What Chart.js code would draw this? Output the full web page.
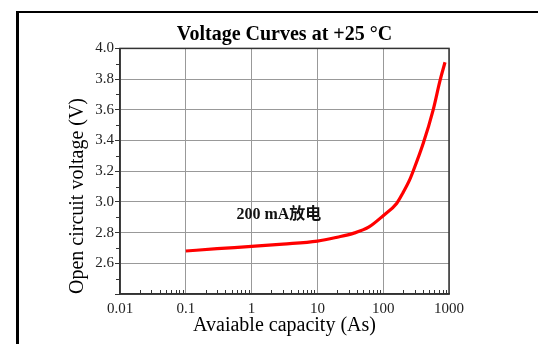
<!DOCTYPE html>
<html>
<head>
<meta charset="utf-8">
<script src="https://cdn.jsdelivr.net/npm/chart.js@4/dist/chart.umd.min.js"></script>
<style>
  body { margin: 0; background: #fff; }
  #wrap { position: relative; width: 538px; height: 344px; }
  #frame { position: absolute; left: 16px; top: 11px; right: 0; bottom: 0; border-left: 3px solid #000; border-top: 2px solid #000; pointer-events: none; }
</style>
</head>
<body>
<div id="wrap">
  <canvas id="chart" width="538" height="344"></canvas>
  <div id="frame"></div>
</div>
<script>
const capacity = [0.1, 0.3, 1, 3, 10, 20, 35, 60, 100, 160, 200, 250, 285, 405, 575, 730, 870];
const voltage = [2.68, 2.695, 2.71, 2.725, 2.745, 2.77, 2.795, 2.835, 2.91, 2.99, 3.06, 3.14, 3.20, 3.38, 3.60, 3.79, 3.91];
const xTicks = [0.01, 0.1, 1, 10, 100, 1000];
const xTickLabels = ['0.01', '0.1', '1', '10', '100', '1000'];
const yTicks = [2.4, 2.6, 2.8, 3.0, 3.2, 3.4, 3.6, 3.8, 4.0];
const yTickLabels = ['', '2.6', '2.8', '3.0', '3.2', '3.4', '3.6', '3.8', '4.0'];
const noteText = '200 mA放电';
const noteAt = { x: 2.6, y: 2.915 };

const serif = '"Liberation Serif", "DejaVu Serif", serif';

// plot frame, minor ticks and the note
const extras = {
  id: 'extras',
  afterDraw(chart) {
    const { ctx, chartArea: a, scales: { x, y } } = chart;
    ctx.save();
    ctx.strokeStyle = '#333';
    ctx.lineWidth = 1;
    ctx.beginPath();
    for (let d = 0.01; d < 1000; d *= 10) {
      for (let k = 2; k <= 9; k++) {
        const px = Math.round(x.getPixelForValue(k * d)) + 0.5;
        ctx.moveTo(px, a.bottom);
        ctx.lineTo(px, a.bottom - 4);
      }
    }
    for (let i = 0; i < 8; i++) {
      const py = Math.round(y.getPixelForValue(2.5 + i * 0.2)) + 0.5;
      ctx.moveTo(a.left - 4, py);
      ctx.lineTo(a.left, py);
    }
    ctx.stroke();
    ctx.lineWidth = 1.5;
    ctx.strokeStyle = '#333';
    ctx.strokeRect(a.left, a.top, a.right - a.left, a.bottom - a.top);
    ctx.fillStyle = '#111';
    ctx.font = 'bold 16px "Liberation Serif", "Noto Sans CJK SC", serif';
    ctx.textAlign = 'center';
    ctx.textBaseline = 'middle';
    ctx.fillText(noteText, x.getPixelForValue(noteAt.x), y.getPixelForValue(noteAt.y));
    ctx.restore();
  }
};

new Chart(document.getElementById('chart'), {
  type: 'line',
  data: {
    datasets: [{
      data: capacity.map((c, i) => ({ x: c, y: voltage[i] })),
      borderColor: '#ff0000',
      borderWidth: 3.2,
      pointRadius: 0,
      cubicInterpolationMode: 'monotone',
      fill: false
    }]
  },
  options: {
    responsive: false,
    animation: false,
    devicePixelRatio: 1,
    layout: { padding: { left: 0, right: 89, top: 0, bottom: 0 } },
    plugins: {
      legend: { display: false },
      tooltip: { enabled: false },
      title: {
        display: true,
        text: 'Voltage Curves at +25 °C',
        fullSize: false,
        color: '#000',
        font: { family: serif, size: 20, weight: 'bold' },
        padding: { top: 23, bottom: 1.4 }
      }
    },
    scales: {
      x: {
        type: 'logarithmic',
        min: 0.01,
        max: 1000,
        afterBuildTicks: s => { s.ticks = xTicks.map(v => ({ value: v })); },
        afterFit: s => { s.height = 50; },
        ticks: {
          autoSkip: false,
          maxRotation: 0,
          padding: 6,
          color: '#222',
          font: { family: serif, size: 15 },
          callback: v => xTickLabels[xTicks.findIndex(t => Math.abs(t - v) < t * 1e-6)] ?? ''
        },
        grid: { color: '#999', lineWidth: 1, drawTicks: false },
        border: { color: '#333', width: 1.5 },
        title: {
          display: true,
          text: 'Avaiable capacity (As)',
          color: '#000',
          font: { family: serif, size: 20 },
          padding: { top: 0, bottom: 6 }
        }
      },
      y: {
        min: 2.4,
        max: 4.0,
        afterBuildTicks: s => { s.ticks = yTicks.map(v => ({ value: v })); },
        afterFit: s => { s.width = 120; },
        ticks: {
          padding: 1,
          color: '#222',
          font: { family: serif, size: 15 },
          callback: (v, i) => yTickLabels[i]
        },
        grid: { color: '#999', lineWidth: 1, tickLength: 5, tickColor: '#333' },
        border: { color: '#333', width: 1.5 },
        title: {
          display: true,
          text: 'Open circuit voltage (V)',
          align: 'start',
          color: '#000',
          font: { family: serif, size: 20 },
          padding: { top: 66, bottom: 0 }
        }
      }
    }
  },
  plugins: [extras]
});
</script>
</body>
</html>
